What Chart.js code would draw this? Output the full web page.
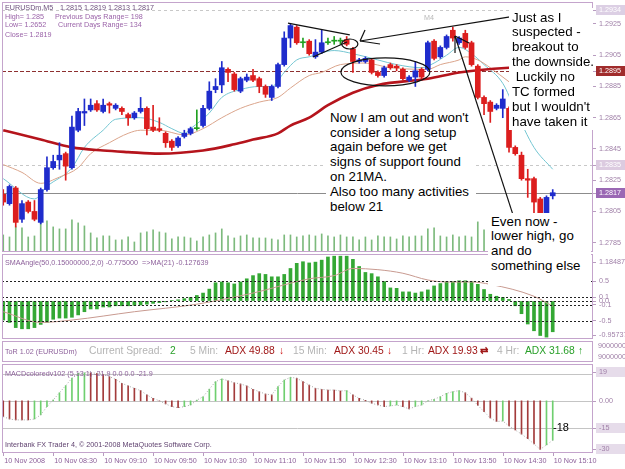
<!DOCTYPE html>
<html><head><meta charset="utf-8">
<script src="https://cdn.jsdelivr.net/npm/chart.js@4.4.1/dist/chart.umd.min.js"></script>
<style>
html,body{margin:0;padding:0;background:#fff;}
#wrap{position:relative;width:625px;height:469px;overflow:hidden;background:#fff;font-family:"Liberation Sans",Arial,sans-serif;}
canvas{position:absolute;left:0;}
.t{position:absolute;white-space:pre;font-size:7.2px;line-height:9px;color:#9a62a8;}
.note{position:absolute;background:#fff;color:#000;font-size:13.3px;line-height:14.9px;white-space:pre;box-sizing:border-box;}
.tor{position:absolute;white-space:pre;font-size:10.3px;line-height:12px;top:345px;}
</style></head>
<body><div id="wrap">
<canvas id="cMain" width="625" height="254" style="top:0;width:625px;height:254px"></canvas>
<canvas id="cSma" width="625" height="88" style="top:252px;width:625px;height:88px"></canvas>
<canvas id="cMacd" width="625" height="107" style="top:362px;width:625px;height:107px"></canvas>

<div style="position:absolute;left:2px;top:341px;width:591px;height:21px;border:1px solid #c4a4cc;box-sizing:border-box;"></div>

<div class="t" style="left:5px;top:2.5px;color:#6d4f7d">EURUSDm,M5</div>
<div class="t" style="left:60px;top:2.5px;color:#6d4f7d">1.2815 1.2819 1.2813 1.2817</div>
<div class="t" style="left:5px;top:11.5px">High= 1.285</div>
<div class="t" style="left:55px;top:11.5px">Previous Days Range= 198</div>
<div class="t" style="left:5px;top:20px">Low= 1.2652</div>
<div class="t" style="left:58px;top:20px">Current Days Range= 134</div>
<div class="t" style="left:5px;top:29.5px">Close= 1.2819</div>
<div class="t" style="left:424px;top:12.5px;color:#b8b8b8">M4</div>

<div class="t" style="left:5px;top:257.5px;color:#8c5f9a">SMAAngle(50,0.15000000,2,0) -0.775000  =&gt;MA(21) -0.127639</div>

<div class="t" style="left:5px;top:346.5px;color:#8c5f9a">ToR 1.02 (EURUSDm)</div>
<div class="tor" style="left:89px;color:#b4b4b4">Current Spread:</div>
<div class="tor" style="left:170px;color:#2aa02a">2</div>
<div class="tor" style="left:190px;color:#b4b4b4">5 Min:</div>
<div class="tor" style="left:225px;color:#a01818">ADX 49.88</div>
<div class="tor" style="left:279px;color:#d01c1c;font-weight:bold">↓</div>
<div class="tor" style="left:293px;color:#b4b4b4">15 Min:</div>
<div class="tor" style="left:334px;color:#a01818">ADX 30.45</div>
<div class="tor" style="left:387px;color:#d01c1c;font-weight:bold">↓</div>
<div class="tor" style="left:402px;color:#b4b4b4">1 Hr:</div>
<div class="tor" style="left:428px;color:#a01818">ADX 19.93</div>
<div class="tor" style="left:480px;color:#a01818;font-weight:bold">⇄</div>
<div class="tor" style="left:497px;color:#b4b4b4">4 Hr:</div>
<div class="tor" style="left:525px;color:#2aa02a">ADX 31.68</div>
<div class="tor" style="left:578px;color:#2aa02a;font-weight:bold">↑</div>
<div class="t" style="left:598px;top:340.5px;color:#a080a8">9000000</div>
<div class="t" style="left:598px;top:352px;color:#a080a8">9000000</div>

<div class="t" style="left:5px;top:368.5px;color:#8c5f9a">MACDcoloredv102 (5,13,1) -21.9 0.0 0.0 -21.9</div>
<div class="t" style="left:5px;top:439.5px;color:#5d3f6d">Interbank FX Trader 4, © 2001-2008 MetaQuotes Software Corp.</div>
<div style="position:absolute;left:553px;top:421px;font-size:11px;line-height:12px;color:#000">-18</div>

<div class="note" style="left:326px;top:108px;width:150px;height:107px;padding:2.6px 0 0 4px">Now I am out and won't
consider a long setup
again before we get
signs of support found
on 21MA.
Also too many activities
below 21</div>
<div class="note" style="left:509px;top:8px;width:84px;height:122px;padding:2.55px 0 0 3px">Just as I
suspected -
breakout to
the downside.
 Luckily no
TC formed
but I wouldn't
have taken it</div>
<div class="note" style="left:488px;top:213px;width:103px;height:73px;padding:1.55px 0 0 3px">Even now -
lower high, go
and do
something else</div>
</div>

<script>
// ---------------- data ----------------
const timeLabels = ['10 Nov 2008','10 Nov 08:30','10 Nov 09:10','10 Nov 09:50','10 Nov 10:30','10 Nov 11:10','10 Nov 11:50','10 Nov 12:30','10 Nov 13:10','10 Nov 13:50','10 Nov 14:30','10 Nov 15:10'];
const timeIdx = [0,8,16,24,32,40,48,56,64,72,80,88];

const opens = [1.2816,1.2810,1.2820,1.2800,1.2811,1.2805,1.2798,1.2819,1.2833,1.2838,
1.2842,1.2833,1.2857,1.2868,1.2870,1.2874,1.2869,1.2874,1.2871,1.2871,
1.2867,1.2865,1.2869,1.2871,1.2859,1.2858,1.2855,1.2850,1.2847,1.2853,
1.2855,1.2858,1.2860,1.2871,1.2883,1.2886,1.2896,1.2893,1.2882,1.2889,
1.2892,1.2890,1.2885,1.2878,1.2885,1.2899,1.2916,1.2923,1.2913,1.2914,
1.2904,1.2907,1.2913,1.2914,1.2914,1.2915,1.2909,1.2901,1.2901,1.2902,
1.2894,1.2892,1.2899,1.2898,1.2896,1.2889,1.2891,1.2896,1.2896,1.2914,
1.2904,1.2910,1.2921,1.2913,1.2919,1.2913,1.2898,1.2878,1.2875,1.2871,
1.2871,1.2871,1.2846,1.2841,1.2826,1.2826,1.2813,1.2803,1.2815];
const highs = [1.2819,1.2822,1.2821,1.2812,1.2812,1.2812,1.2820,1.2840,1.2841,1.2849,
1.2843,1.2866,1.2871,1.2877,1.2877,1.2876,1.2877,1.2875,1.2874,1.2872,
1.2868,1.2869,1.2878,1.2872,1.2873,1.2865,1.2856,1.2851,1.2853,1.2857,
1.2859,1.2870,1.2873,1.2888,1.2890,1.2901,1.2897,1.2894,1.2891,1.2893,
1.2896,1.2891,1.2886,1.2886,1.2900,1.2920,1.2925,1.2924,1.2916,1.2915,
1.2915,1.2921,1.2916,1.2917,1.2916,1.2917,1.2910,1.2903,1.2904,1.2903,
1.2895,1.2898,1.2900,1.2899,1.2897,1.2892,1.2901,1.2897,1.2914,1.2915,
1.2911,1.2918,1.2923,1.2917,1.2921,1.2914,1.2899,1.2879,1.2876,1.2874,
1.2883,1.2872,1.2847,1.2843,1.2832,1.2827,1.2814,1.2815,1.2819];
const lows = [1.2809,1.2809,1.2795,1.2798,1.2804,1.2799,1.2797,1.2818,1.2832,1.2832,
1.2825,1.2832,1.2856,1.2860,1.2869,1.2869,1.2868,1.2868,1.2870,1.2867,
1.2860,1.2864,1.2868,1.2854,1.2856,1.2856,1.2846,1.2844,1.2846,1.2852,
1.2854,1.2857,1.2859,1.2870,1.2881,1.2881,1.2888,1.2882,1.2881,1.2888,
1.2888,1.2881,1.2878,1.2876,1.2884,1.2898,1.2910,1.2912,1.2910,1.2905,
1.2903,1.2906,1.2912,1.2912,1.2912,1.2911,1.2894,1.2900,1.2900,1.2893,
1.2891,1.2891,1.2896,1.2895,1.2889,1.2888,1.2885,1.2890,1.2895,1.2902,
1.2903,1.2909,1.2914,1.2912,1.2909,1.2898,1.2877,1.2867,1.2862,1.2870,
1.2865,1.2843,1.2841,1.2825,1.2814,1.2804,1.2802,1.2802,1.2813];
const closes = [1.2811,1.2821,1.2798,1.2810,1.2805,1.2800,1.2819,1.2833,1.2837,1.2841,
1.2834,1.2859,1.2869,1.2869,1.2873,1.2870,1.2873,1.2873,1.2873,1.2869,
1.2865,1.2868,1.2871,1.2858,1.2857,1.2857,1.2849,1.2846,1.2852,1.2855,
1.2858,1.2858,1.2871,1.2882,1.2885,1.2897,1.2894,1.2883,1.2890,1.2891,
1.2889,1.2885,1.2880,1.2885,1.2899,1.2916,1.2924,1.2913,1.2913,1.2906,
1.2907,1.2913,1.2913,1.2914,1.2914,1.2912,1.2901,1.2902,1.2903,1.2894,
1.2892,1.2897,1.2897,1.2897,1.2890,1.2891,1.2895,1.2891,1.2913,1.2903,
1.2910,1.2917,1.2916,1.2916,1.2910,1.2899,1.2878,1.2874,1.2869,1.2873,
1.2877,1.2846,1.2842,1.2826,1.2825,1.2811,1.2803,1.2814,1.2817];
const volumes = [17,15,25,24,15,16,30,31,25,23,
23,32,29,26,19,14,16,16,12,12,
15,10,19,20,22,20,19,13,15,15,
14,11,15,17,19,23,16,14,16,17,
14,14,14,13,12,17,17,15,16,17,
16,18,16,15,17,15,15,12,15,12,
16,15,15,13,16,15,16,16,23,24,
16,15,17,15,16,15,30,22,22,18,
16,25,20,22,18,20,19,17,8];

const maSlowIdx = [0,6,11,16,20,25,32,37,40,44,46,49,52,56,60,68,73,81,88];
const maSlow = [1.2857,1.2851,1.2846,1.2844,1.2843,1.2842,1.2844,1.2848,1.2851,1.2855,1.2860,1.2865,1.2873,1.2881,1.2886,1.2890,1.2894,1.2897,1.2898];
const maMidIdx = [0,3,6,9,12,14,17,20,22,25,29,32,35,38,41,44,46,49,51,54,58,62,68,70,73,74,76,78,81,85,88];
const maMid = [1.2835,1.2830,1.2823,1.2827,1.2833,1.2842,1.2849,1.2855,1.2857,1.2857,1.2854,1.2858,1.2865,1.2871,1.2875,1.2878,1.2884,1.2892,1.2894,1.2899,1.2900,1.2897,1.2896,1.2899,1.2902,1.2904,1.2902,1.2897,1.2888,1.2877,1.2871];
const maFastIdx = [0,5,7,11,13,16,18,22,25,27,29,30,33,35,38,41,43,45,47,49,53,56,60,63,67,69,71,73,75,77,80,82,85,88];
const maFast = [1.2826,1.2813,1.2821,1.2833,1.2846,1.2857,1.2864,1.2865,1.2862,1.2858,1.2855,1.2858,1.2868,1.2878,1.2883,1.2885,1.2885,1.2894,1.2902,1.2904,1.2908,1.2906,1.2902,1.2899,1.2897,1.2900,1.2905,1.2910,1.2906,1.2899,1.2887,1.2870,1.2846,1.2832];

const priceTicks = [1.2925,1.2905,1.2885,1.2865,1.2845,1.2825,1.2805,1.2785];
const priceMarks = [1.2934,1.2895,1.2835,1.2817];

const smaAngle = [-0.48,-0.54,-0.67,-0.70,-0.70,-0.67,-0.59,-0.54,-0.46,-0.43,
-0.43,-0.41,-0.35,-0.27,-0.20,-0.20,-0.15,-0.15,-0.12,-0.12,
-0.12,-0.11,-0.10,-0.08,-0.06,-0.04,-0.02,0.01,0.03,0.06,
0.09,0.14,0.20,0.30,0.46,0.48,0.46,0.43,0.48,0.56,
0.64,0.69,0.67,0.61,0.61,0.67,0.82,0.95,0.99,0.96,
0.98,1.03,1.11,1.13,1.13,1.13,1.05,0.87,0.72,0.69,
0.61,0.49,0.33,0.32,0.23,0.23,0.20,0.23,0.28,0.38,
0.44,0.49,0.49,0.51,0.51,0.49,0.42,0.29,0.17,0.12,
0.09,0.04,-0.12,-0.32,-0.58,-0.75,-0.87,-0.91,-0.775];
const smaMaIdx = [0,6,11,21,31,40,49,53,56,60,64,68,71,75,78,85,88];
const smaMa = [-0.27,-0.54,-0.48,-0.27,-0.08,0.20,0.56,0.64,0.82,0.79,0.70,0.53,0.48,0.48,0.42,0.12,-0.13];
const smaTicks = [0.5,0.1,0.0,-0.1,-0.5];
const smaTickLabels = ['0.5','0.1','0.0','-0.1','-0.5'];
const smaMax = 1.184875, smaMin = -0.95737;

const macd = [-8.8,-10.1,-10.6,-10.6,-10.6,-10.1,-7.8,-3.2,0.5,4.5,
8.5,12.6,15.3,15.6,15.6,15.3,14.8,13.5,12,9.8,
8.3,7,5.7,3.3,1.4,0,-1.7,-3.2,-3.8,-3.2,
-2.3,0.4,2.3,6.5,10.7,12.2,11.2,10.1,9.4,8.3,
6.4,5.1,3.8,3.3,7.9,11.6,13.1,12.6,10.7,8.8,
7,6.4,6,6,5.5,5.7,3.3,1.4,0.3,-1.3,
-2.3,-3.2,-2.8,-2.3,-3.2,-4.5,-3.2,-2.3,0,0.9,
2.3,4.2,5.1,5.7,4.5,1.5,-2.5,-6,-9.5,-11.5,
-11.2,-14,-16.2,-18.5,-21,-24,-27,-24.5,-21.9];
const macdLevels = [15,0,-15];
const macdLabels = ['19','0.00','-15','-30'];

// annotation drawings in data coordinates [bar index, price]
const noteSegments = [
 [45.6,1.29256,55.5,1.29180],
 [49.6,1.29039,55.05,1.29135],
 [81.16,1.29295,57.14,1.29141],
 [57.14,1.29141,57.94,1.29212],
 [57.14,1.29141,60.34,1.29122],
 [81.64,1.28028,72.35,1.29173],
 [72.35,1.29173,72.35,1.29064],
 [72.35,1.29173,74.6,1.29128]
];
const noteEllipses = [[55.5,1.29122,1.3,0.00032],[61.2,1.28943,7.13,0.000896]];

// ---------------- style / helpers ----------------
const FONT = '"Liberation Sans", Arial, sans-serif';
Chart.defaults.font.family = FONT;
const AXC = '#a080a8', BORDER = '#c4a4cc';
const UP = '#1f2ccc', DN = '#dc1e1e', DOJI = '#20a020';
const idx = opens.map((_, i) => i);
const candleColor = idx.map(i => closes[i] > opens[i] ? UP : (closes[i] < opens[i] ? DN : DOJI));
const xMin = -0.2, xMax = 94.45;
const xCfg = () => ({type:'linear', min:xMin, max:xMax, display:false, offset:false});
const pts = (xs, ys) => xs.map((x, k) => ({x, y: ys[k]}));

function yCfg(min, max, ticks, fmt) {
  return {
    position:'right', min, max,
    afterFit(s){ s.width = 32; s.paddingTop = 0; s.paddingBottom = 0; },
    afterBuildTicks(s){ s.ticks = ticks.map(v => ({value:v})); },
    ticks:{ autoSkip:false, padding:3, color:AXC, font:{size:7.2, family:FONT}, callback:(v, i) => fmt(v, i) },
    grid:{ drawOnChartArea:false, drawTicks:true, tickLength:3, color:'#b89cc0' },
    border:{ display:false }
  };
}

const panelPlugin = {
  id:'panel',
  beforeDatasetsDraw(chart, a, o){ if (o.back) drawLevels(chart, o.back); },
  afterDatasetsDraw(chart, a, o){
    if (o.front) drawLevels(chart, o.front);
    if (o.notes) o.notes(chart);
  },
  afterDraw(chart, a, o){
    const {ctx, chartArea:ca} = chart;
    ctx.save();
    ctx.strokeStyle = BORDER; ctx.lineWidth = 1;
    ctx.strokeRect(Math.round(ca.left)+0.5, Math.round(ca.top)+0.5, Math.round(ca.right-ca.left)-1, Math.round(ca.bottom-ca.top)-1);
    ctx.font = '7.2px ' + FONT; ctx.textBaseline = 'middle'; ctx.textAlign = 'left';
    (o.marks || []).forEach(m => {
      const py = m.value !== undefined ? chart.scales.y.getPixelForValue(m.value)
               : (m.anchor === 'top' ? ca.top + m.off : ca.bottom - m.off);
      ctx.strokeStyle = '#b89cc0';
      ctx.beginPath(); ctx.moveTo(ca.right, Math.round(py)+0.5); ctx.lineTo(ca.right+3, Math.round(py)+0.5); ctx.stroke();
      if (m.bg) { ctx.fillStyle = m.bg; ctx.fillRect(ca.right+3, Math.round(py)-5, 29, 10); }
      ctx.fillStyle = m.fg || AXC;
      ctx.fillText(m.text, ca.right+6, py+0.5);
    });
    if (o.time) o.time(chart);
    ctx.restore();
  }
};
function drawLevels(chart, list){
  const {ctx, chartArea:ca} = chart; const y = chart.scales.y;
  ctx.save();
  list.forEach(l => {
    const py = Math.round(y.getPixelForValue(l.v)) + 0.5;
    ctx.strokeStyle = l.color; ctx.lineWidth = 1; ctx.setLineDash(l.dash || []);
    ctx.beginPath(); ctx.moveTo(ca.left, py); ctx.lineTo(ca.right, py); ctx.stroke();
  });
  ctx.restore();
}
Chart.register(panelPlugin);

const common = {
  responsive:false, animation:false, devicePixelRatio:1,
  plugins:{ legend:{display:false}, tooltip:{enabled:false} }
};

// ---------------- main price chart ----------------
new Chart(document.getElementById('cMain'), {
  type:'bar',
  data:{ datasets:[
    {data: idx.map(i => ({x:i, y:[opens[i], closes[i]]})), backgroundColor:candleColor, barThickness:5, minBarLength:1, grouped:false, order:0, yAxisID:'y'},
    {data: idx.map(i => ({x:i, y:[lows[i], highs[i]]})), backgroundColor:candleColor, barThickness:1, grouped:false, order:1, yAxisID:'y'},
    {type:'line', data:pts(maSlowIdx, maSlow), borderColor:'#b5141c', borderWidth:2.6, pointRadius:0, cubicInterpolationMode:'monotone', order:2, yAxisID:'y'},
    {type:'line', data:pts(maMidIdx, maMid), borderColor:'#dba58c', borderWidth:1, pointRadius:0, cubicInterpolationMode:'monotone', order:3, yAxisID:'y'},
    {type:'line', data:pts(maFastIdx, maFast), borderColor:'#74c6d2', borderWidth:1, pointRadius:0, cubicInterpolationMode:'monotone', order:4, yAxisID:'y'},
    {data: idx.map(i => ({x:i, y:volumes[i]})), backgroundColor:'#7dba7d', barThickness:1, grouped:false, order:5, yAxisID:'yv'}
  ]},
  options:{ ...common,
    layout:{ padding:{left:2, top:2, bottom:2, right:0} },
    scales:{
      x: xCfg(),
      y: yCfg(1.277904, 1.293908, priceTicks, v => Number(v).toFixed(4)),
      yv:{ display:false, min:0, max:249 }
    },
    plugins:{ ...common.plugins,
      panel:{
        back:[
          {v:priceMarks[0], color:'#c8c8c8', dash:[3,3]},
          {v:priceMarks[1], color:'#8e3030', dash:[4,2]},
          {v:priceMarks[2], color:'#c8c8c8', dash:[3,3]},
          {v:priceMarks[3], color:'#8c8c8c'}
        ],
        marks:[
          {value:priceMarks[0], text:priceMarks[0].toFixed(4), bg:'#dccfe4', fg:'#ffffff'},
          {value:priceMarks[1], text:priceMarks[1].toFixed(4), bg:'#a02c2c', fg:'#ffffff'},
          {value:priceMarks[2], text:priceMarks[2].toFixed(4), bg:'#dccbe0', fg:'#ffffff'},
          {value:priceMarks[3], text:priceMarks[3].toFixed(4), bg:'#9a68b4', fg:'#ffffff'}
        ],
        notes(chart){
          const {ctx} = chart; const xs = chart.scales.x, ys = chart.scales.y;
          ctx.save();
          ctx.strokeStyle = '#111'; ctx.lineWidth = 1.2;
          noteSegments.forEach(s => {
            ctx.beginPath();
            ctx.moveTo(xs.getPixelForValue(s[0]), ys.getPixelForValue(s[1]));
            ctx.lineTo(xs.getPixelForValue(s[2]), ys.getPixelForValue(s[3]));
            ctx.stroke();
          });
          noteEllipses.forEach(e => {
            const cx = xs.getPixelForValue(e[0]), cy = ys.getPixelForValue(e[1]);
            const rx = Math.abs(xs.getPixelForValue(e[0] + e[2]) - cx);
            const ry = Math.abs(ys.getPixelForValue(e[1] + e[3]) - cy);
            ctx.beginPath(); ctx.ellipse(cx, cy, rx, ry, 0, 0, Math.PI * 2); ctx.stroke();
          });
          ctx.restore();
        }
      }
    }
  }
});

// ---------------- SMA angle panel ----------------
new Chart(document.getElementById('cSma'), {
  type:'bar',
  data:{ datasets:[
    {type:'line', data:pts(smaMaIdx, smaMa), borderColor:'#c89a90', borderWidth:1, pointRadius:0, cubicInterpolationMode:'monotone', order:0},
    {data: idx.map(i => ({x:i, y:smaAngle[i]})), backgroundColor:'#34a834', barThickness:3, grouped:false, order:1}
  ]},
  options:{ ...common,
    layout:{ padding:{left:2, top:2, bottom:1, right:0} },
    scales:{ x:xCfg(), y:yCfg(smaMin, smaMax, smaTicks, (v, i) => smaTickLabels[i]) },
    plugins:{ ...common.plugins,
      panel:{
        front: smaTicks.map(v => ({v, color:'#222', dash:[2,2]})),
        marks:[
          {anchor:'top', off:8, text:String(smaMax)},
          {anchor:'bottom', off:4, text:String(smaMin)}
        ]
      }
    }
  }
});

// ---------------- MACD panel ----------------
const macdColors = macd.map((v, i) => (i > 0 && v > macd[i-1]) ? '#6fcf6f' : '#a33b3b');
new Chart(document.getElementById('cMacd'), {
  type:'bar',
  data:{ datasets:[
    {type:'line', data: idx.map(i => ({x:i, y:macd[i]})), borderColor:'#a8a8a8', borderWidth:1, borderDash:[1,2], pointRadius:0, order:0},
    {data: idx.map(i => ({x:i, y:macd[i]})), backgroundColor:macdColors, barThickness:1, grouped:false, order:1}
  ]},
  options:{ ...common,
    layout:{ padding:{left:2, top:2, bottom:16, right:0} },
    scales:{ x:xCfg(), y:yCfg(-29, 20.5, [], v => '') },
    plugins:{ ...common.plugins,
      panel:{
        back: macdLevels.map(v => ({v, color:'#c4c4c4'})),
        marks:[
          {anchor:'top', off:8, text:macdLabels[0], bg:'#e6dcea'},
          {value:0, text:macdLabels[1]},
          {value:-15, text:macdLabels[2], bg:'#e6dcea'},
          {anchor:'bottom', off:4, text:macdLabels[3], bg:'#e6dcea'}
        ],
        time(chart){
          const {ctx, chartArea:ca} = chart; const xs = chart.scales.x;
          ctx.font = '7.2px ' + FONT; ctx.fillStyle = '#8c5f9a'; ctx.strokeStyle = '#b89cc0';
          ctx.textAlign = 'left'; ctx.textBaseline = 'middle';
          timeIdx.forEach((ti, k) => {
            const px = xs.getPixelForValue(ti);
            ctx.beginPath(); ctx.moveTo(Math.round(px)+0.5, ca.bottom); ctx.lineTo(Math.round(px)+0.5, ca.bottom+3); ctx.stroke();
            ctx.fillText(timeLabels[k], px + 1, ca.bottom + 8);
          });
        }
      }
    }
  }
});
</script>
</body></html>
